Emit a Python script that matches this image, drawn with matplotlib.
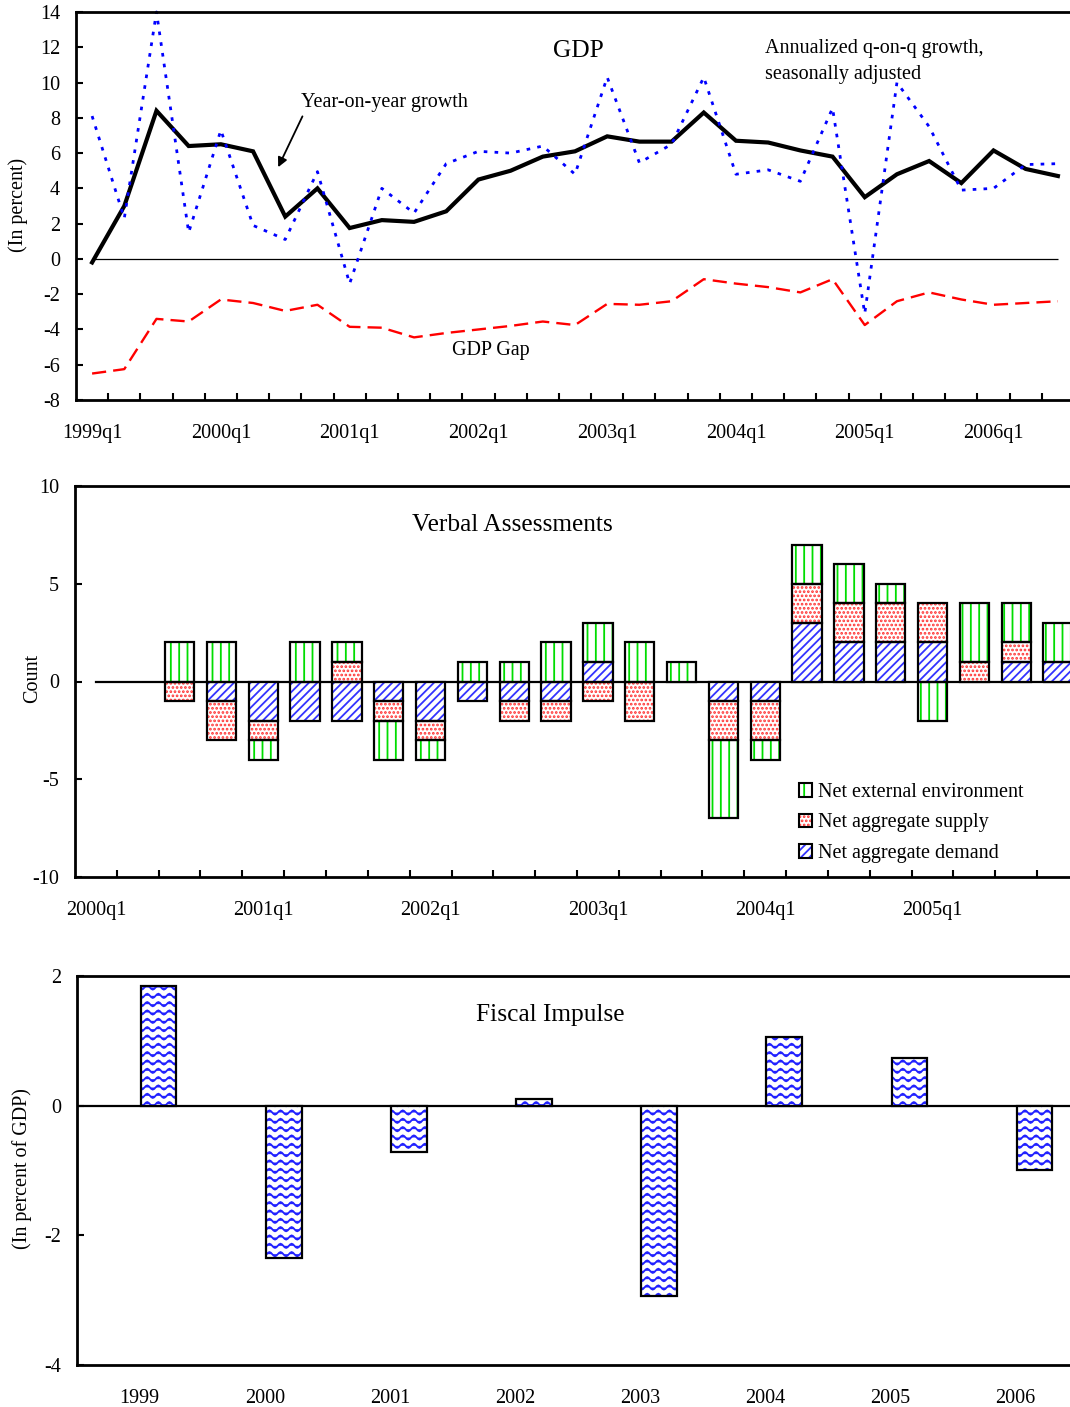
import warnings
warnings.filterwarnings('ignore')
import numpy as np
import matplotlib
matplotlib.use('Agg')
import matplotlib.pyplot as plt
import matplotlib.patches as mpatches
import matplotlib.hatch as mhatch
from matplotlib.path import Path
from matplotlib.legend_handler import HandlerTuple

# ---------------- data ----------------
gdp_years = [1999, 2000, 2001, 2002, 2003, 2004, 2005, 2006]
gdp_quarters = [f'{y}q{q}' for y in gdp_years for q in range(1, 5)][:31]
yoy_growth = [-0.2, 3.0, 8.4, 6.4, 6.5, 6.1, 2.4, 4.0, 1.75, 2.2, 2.1, 2.7,
              4.5, 5.0, 5.8, 6.1, 6.95, 6.65, 6.65, 8.3, 6.7, 6.6, 6.15, 5.8,
              3.5, 4.8, 5.55, 4.3, 6.15, 5.1, 4.7]
qoq_growth = [8.1, 2.3, 14.0, 1.5, 7.3, 1.9, 1.1, 4.95, -1.4, 4.0, 2.6, 5.4,
              6.1, 6.0, 6.4, 4.8, 10.3, 5.45, 6.5, 10.3, 4.8, 5.05, 4.4, 8.55,
              -3.1, 10.0, 7.5, 3.9, 4.0, 5.35, 5.4]
gdp_gap = [-6.5, -6.25, -3.4, -3.55, -2.3, -2.5, -2.95, -2.6, -3.85, -3.9,
           -4.45, -4.2, -4.0, -3.8, -3.55, -3.75, -2.55, -2.6, -2.4, -1.15,
           -1.4, -1.6, -1.9, -1.15, -3.75, -2.4, -1.9, -2.3, -2.6, -2.5, -2.4]
gdp_tick_labels = ['1999q1', '2000q1', '2001q1', '2002q1', '2003q1',
                   '2004q1', '2005q1', '2006q1']

va_years = [2000, 2001, 2002, 2003, 2004, 2005]
va_quarters = [f'{y}q{q}' for y in va_years for q in range(1, 5)]
net_demand = [0, 0, 0, -1, -2, -2, -2, -1, -2, -1, -1, -1,
              1, 0, 0, -1, -1, 3, 2, 2, 2, 0, 1, 1]
net_supply = [0, 0, -1, -2, -1, 0, 1, -1, -1, 0, -1, -1,
              -1, -2, 0, -2, -2, 2, 2, 2, 2, 1, 1, 0]
net_external = [0, 0, 2, 2, -1, 2, 1, -2, -1, 1, 1, 2,
                2, 2, 1, -4, -1, 2, 2, 1, -2, 3, 2, 2]
va_tick_labels = ['2000q1', '2001q1', '2002q1', '2003q1', '2004q1', '2005q1']

fiscal_years = ['1999', '2000', '2001', '2002', '2003', '2004', '2005', '2006']
fiscal_impulse = [1.85, -2.35, -0.71, 0.10, -2.93, 1.06, 0.74, -0.99]

# ---------------- custom wavy hatch ('~') ----------------
class WaveHatch(mhatch.HatchPatternBase):
    n_periods = 9
    seg_per_period = 8

    def __init__(self, hatch, density):
        self.num_lines = int(hatch.count('~') * density)
        self.n_pts = self.n_periods * self.seg_per_period + 1
        self.num_vertices = self.num_lines * self.n_pts

    def set_vertices_and_codes(self, vertices, codes):
        xs = np.linspace(0.0, 1.0, self.n_pts)
        k = 0
        for i in range(self.num_lines):
            y0 = (i + 0.5) / self.num_lines
            ys = y0 + 0.021 * np.sin(2 * np.pi * self.n_periods * xs)
            vertices[k:k + self.n_pts, 0] = xs
            vertices[k:k + self.n_pts, 1] = ys
            codes[k] = Path.MOVETO
            codes[k + 1:k + self.n_pts] = Path.LINETO
            k += self.n_pts

mhatch._hatch_types.append(WaveHatch)

# ---------------- style ----------------
plt.rcParams['font.family'] = ['Liberation Serif', 'DejaVu Serif']
plt.rcParams['axes.unicode_minus'] = False
plt.rcParams['hatch.linewidth'] = 1.3
FS = 14.5
TFS = 18.3
SPW = 2.0

W, H = 1070, 1407
fig = plt.figure(figsize=(W / 100, H / 100), dpi=100)


def rect(l, t, r, b):
    return [l / W, 1 - b / H, (r - l) / W, (b - t) / H]


def style_axes(ax):
    for s in ['left', 'bottom', 'top']:
        ax.spines[s].set_linewidth(SPW)
    ax.spines['right'].set_visible(False)
    ax.tick_params(axis='y', direction='in', length=5, width=1.5,
                   labelsize=FS, pad=11.5)
    ax.tick_params(axis='x', which='major', length=0, labelsize=FS, pad=17)
    ax.tick_params(axis='x', which='minor', direction='in', length=5,
                   width=1.5)


# ================= Top: GDP =================
ax1 = fig.add_axes(rect(76, 12, 1074, 400))
x1 = np.arange(len(gdp_quarters))
ax1.hlines(0, x1[0], x1[-1], color='black', lw=0.9)
ax1.plot(x1, gdp_gap, color='#FF0000', lw=1.7, linestyle=(0, (6, 3)))
ax1.plot(x1, yoy_growth, color='black', lw=3.0, solid_joinstyle='miter')
ax1.plot(x1, qoq_growth, color='#0000FF', lw=2.0, linestyle=(0, (1.3, 2.6)),
         clip_on=False)
ax1.set_xlim(-0.5, len(gdp_quarters) - 0.5)
ax1.set_ylim(-8, 14)
ax1.set_yticks(np.arange(-8, 15, 2))
ax1.set_xticks([gdp_quarters.index(l) for l in gdp_tick_labels])
ax1.set_xticklabels(gdp_tick_labels)
ax1.set_xticks(x1[:-1] + 0.5, minor=True)
style_axes(ax1)

ax1.text(0.5035, 0.90, 'GDP', transform=ax1.transAxes, ha='center',
         va='center', fontsize=TFS)
ax1.annotate('Year-on-year growth', xy=(5.78, 5.2), xytext=(6.49, 8.85),
             ha='left', va='center', fontsize=FS,
             arrowprops=dict(arrowstyle='-|>', color='black', lw=1.3,
                             relpos=(0.02, 0.0), shrinkA=1, shrinkB=0,
                             mutation_scale=14))
ax1.text(20.9, 11.2, 'Annualized q-on-q growth,\nseasonally adjusted',
         ha='left', va='center', fontsize=FS, linespacing=1.5)
ax1.text(12.4, -5.2, 'GDP Gap', ha='center', va='center', fontsize=FS)

fig.text(18 / W, 1 - 205 / H, '(In percent)', rotation=90, ha='center',
         va='center', fontsize=FS)

# ================= Middle: Verbal Assessments =================
ax2 = fig.add_axes(rect(75, 486, 1079, 877))
x2 = np.arange(len(va_quarters))
BW = 0.7
series = [
    (np.array(net_demand, float), '#3333FF', '////'),
    (np.array(net_supply, float), '#FF3030', '....'),
    (np.array(net_external, float), '#00DD00', '||'),
]
ax2.axhline(0, xmin=0.5 / len(va_quarters), xmax=1, color='black', lw=1.6,
            zorder=1)
pos_base = np.zeros(len(x2))
neg_base = np.zeros(len(x2))
for vals, col, hat in series:
    pos = np.where(vals > 0, vals, 0)
    neg = np.where(vals < 0, vals, 0)
    for part, base in ((pos, pos_base), (neg, neg_base)):
        m = part != 0
        ax2.bar(x2[m], part[m], BW, bottom=base[m], color='white',
                edgecolor=col, hatch=hat, lw=0, zorder=2)
        ax2.bar(x2[m], part[m], BW, bottom=base[m], color='none',
                edgecolor='black', lw=1.6, zorder=3)
    pos_base = pos_base + pos
    neg_base = neg_base + neg

ax2.set_xlim(-0.5, len(va_quarters) - 0.5)
ax2.set_ylim(-10, 10)
ax2.set_yticks([-10, -5, 0, 5, 10])
ax2.set_xticks([va_quarters.index(l) for l in va_tick_labels])
ax2.set_xticklabels(va_tick_labels)
ax2.set_xticks(x2[:-1] + 0.5, minor=True)
style_axes(ax2)
ax2.text(0.436, 0.90, 'Verbal Assessments', transform=ax2.transAxes,
         ha='center', va='center', fontsize=TFS)
fig.text(33 / W, 1 - 678 / H, 'Count', rotation=90, ha='center',
         va='center', fontsize=FS)

labels = ['Net external environment', 'Net aggregate supply',
          'Net aggregate demand']
handles = []
for vals, col, hat in series[::-1]:
    handles.append((mpatches.Patch(facecolor='white', edgecolor=col,
                                   hatch=hat, lw=0),
                    mpatches.Patch(facecolor='none', edgecolor='black',
                                   lw=1.5)))
ax2.legend(handles, labels, handler_map={tuple: HandlerTuple(ndivide=1)},
           loc='upper left', bbox_to_anchor=(799 / W, 1 - 783 / H),
           bbox_transform=fig.transFigure, frameon=False, fontsize=FS,
           handlelength=0.65, handleheight=0.65, handletextpad=0.3,
           labelspacing=0.57, borderpad=0, borderaxespad=0)

# ================= Bottom: Fiscal Impulse =================
ax3 = fig.add_axes(rect(77, 976, 1078, 1365))
x3 = np.arange(len(fiscal_years))
FOFF, FBW = 0.152, 0.285
ax3.axhline(0, color='black', lw=1.6, zorder=1)
ax3.bar(x3 + FOFF, fiscal_impulse, FBW, color='white', edgecolor='#2222FF',
        hatch='~~', lw=0, zorder=2)
ax3.bar(x3 + FOFF, fiscal_impulse, FBW, color='none', edgecolor='black',
        lw=1.6, zorder=3)
ax3.set_xlim(-0.5, len(fiscal_years) - 0.5)
ax3.set_ylim(-4, 2)
ax3.set_yticks([-4, -2, 0, 2])
ax3.set_xticks(x3)
ax3.set_xticklabels(fiscal_years)
style_axes(ax3)
ax3.tick_params(axis='x', pad=17)
ax3.text(0.4725, 0.90, 'Fiscal Impulse', transform=ax3.transAxes,
         ha='center', va='center', fontsize=TFS)
fig.text(22 / W, 1 - 1169 / H, '(In percent of GDP)', rotation=90,
         ha='center', va='center', fontsize=FS)

fig.savefig('out.png', dpi=100)
